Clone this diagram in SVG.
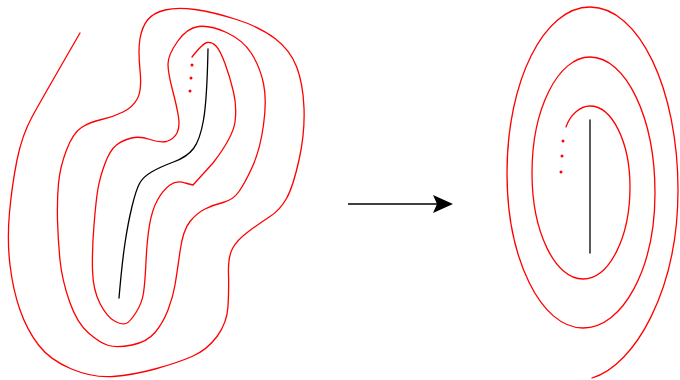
<svg xmlns="http://www.w3.org/2000/svg" width="680" height="380" viewBox="0 0 680 380">
<style>
.r{fill:none;stroke:#ff0000;stroke-width:1.3;stroke-linecap:round;stroke-linejoin:round}
.k{fill:none;stroke:#000;stroke-width:1.3;stroke-linecap:round}
.dot{fill:#ff0000}
</style>
<defs>
<marker id="ah" markerWidth="21" markerHeight="20" refX="7" refY="9" orient="auto" markerUnits="userSpaceOnUse">
<path d="M20,9 L0,0 L4,9 L0,18 Z" fill="#000"/>
</marker>
</defs>
<g id="left-spiral">
<path class="r" d="M80,33 Q43,97 32.5,116 Q22,135 17,160 Q12,185 9.5,212.5 Q7,240 10,265 Q13,290 20,310 Q27,330 38.5,345 Q50,360 71.5,369 Q93,378 113,376.5 Q133,375 155,369 Q177,363 192,356.5 Q207,350 217,336.5 Q227,323 228,306.5 Q229,290 228.5,273.5 Q228,257 232.5,248.5 Q237,240 248.5,231.5 Q260,223 270,216.5 Q280,210 286.5,198.5 Q293,187 299,160 Q305,133 304,108 Q303,83 296.5,66.5 Q290,50 275,38.5 Q260,27 236.5,19.5 Q213,12 195,9.5 Q177,7 165,10 Q153,13 147.5,20 Q142,27 140,38.5 Q138,50 140,70 Q142,90 137.5,98.5 Q133,107 123,112 Q113,117 101.5,119.5 Q90,122 81.5,127.5 Q73,133 66.5,150 Q60,167 58.5,183.5 Q57,200 57.5,220 Q58,240 60,260 Q62,280 69.5,301.5 Q77,323 88.5,333 Q100,343 108.5,345.5 Q117,348 132,345 Q147,342 155,332.5 Q163,323 168,310 Q173,297 175,285 Q177,273 180,251.5 Q183,230 190,221.5 Q197,213 205,209 Q213,205 223,202.5 Q233,200 239,191.5 Q245,183 252.5,166.5 Q260,150 263.5,125 Q267,100 263.5,83.5 Q260,67 251.5,53.5 Q243,40 226.5,32.5 Q210,25 198.5,26.5 Q187,28 177.5,41.5 Q168,55 168,64 Q168,73 172.5,90 Q177,107 178.5,117 Q180,127 177,133 Q174,139 166.5,141.5 Q160,143 150,139.5 Q140,136 131.5,138 Q123,140 116.5,145 Q110,150 105,163.5 Q100,177 98,188.5 Q96,200 94,225 Q92,250 92.5,270 Q93,290 100,303.5 Q107,317 114.5,321 Q122,325 126,323.5 Q130,322 136,312.5 Q142,303 143.5,293 Q145,283 146,261.5 Q147,240 149.5,225 Q152,210 157.5,200 Q163,190 170,185 Q177,180 185,183 L193,185 L213,163 Q233,137 235,122 Q237,107 233.5,92 Q230,77 225,63.5 Q220,50 216,46 Q212,42 207.5,42.5 Q203,43 192,57"/>
<circle class="dot" cx="192" cy="65" r="1.5"/>
<circle class="dot" cx="191" cy="78" r="1.5"/>
<circle class="dot" cx="190" cy="91" r="1.5"/>
<path class="k" d="M208,49 Q207,100 203.5,120 Q200,140 193.5,148.5 Q187,157 173.5,162 Q160,167 151.5,172 Q143,177 139.5,183.5 Q136,190 132,206.5 Q128,223 125,243 Q122,263 119,298"/>
</g>
<g id="connectors">
<line x1="348" y1="204" x2="440" y2="204" stroke="#000" stroke-width="1.3" marker-end="url(#ah)"/>
</g>
<g id="right-spiral">
<path class="r" d="M592,378 C635,365 678,290 678,190 C678,89 639,7 590,7 C544,7 507,81 507,173 C507,259 541,328 583,328 C623,328 655,268 655,193 C655,118 626,57 590,57 C558,57 532,109 532,173 C532,232 555,279 583,279 C609,279 630,238 630,187 C630,142 612,106 590,106 C580,106 570,115 566,127"/>
<circle class="dot" cx="563" cy="141" r="1.5"/>
<circle class="dot" cx="562" cy="156" r="1.5"/>
<circle class="dot" cx="561" cy="172" r="1.5"/>
<line class="k" x1="590" y1="120" x2="590" y2="253"/>
</g>
</svg>
